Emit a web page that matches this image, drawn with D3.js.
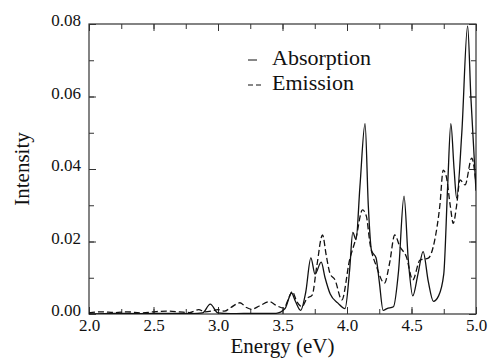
<!DOCTYPE html>
<html>
<head>
<meta charset="utf-8">
<script src="https://cdn.jsdelivr.net/npm/d3@7"></script>
<style>
  body { margin: 0; background: #fff; }
</style>
</head>
<body>
<div id="chart"></div>
<script>
// absorption spectrum (solid)
const absEnergy = [2.0, 2.2, 2.4, 2.6, 2.8, 2.88, 2.94, 3.0, 3.1, 3.3, 3.45, 3.52, 3.57, 3.60, 3.64, 3.68, 3.72, 3.752, 3.80, 3.83, 3.87, 3.93, 3.985, 4.02, 4.045, 4.07, 4.10, 4.14, 4.165, 4.19, 4.225, 4.25, 4.28, 4.31, 4.36, 4.40, 4.442, 4.475, 4.51, 4.55, 4.59, 4.63, 4.67, 4.71, 4.75, 4.78, 4.805, 4.83, 4.85, 4.89, 4.935, 4.96, 5.0];
const absIntensity = [0, 0.0002, 0.0001, 0.0002, 0.0001, 0.0003, 0.0027, 0.0003, 0.0001, 0.0002, 0.0002, 0.0015, 0.0058, 0.0035, 0.001, 0.006, 0.0155, 0.011, 0.0143, 0.010, 0.0055, 0.003, 0.0015, 0.012, 0.0225, 0.0205, 0.035, 0.0525, 0.03, 0.0175, 0.0155, 0.009, 0.001, 0.0015, 0.002, 0.012, 0.0325, 0.015, 0.005, 0.011, 0.0172, 0.009, 0.0035, 0.005, 0.011, 0.035, 0.0525, 0.04, 0.032, 0.05, 0.0795, 0.06, 0.034];

// emission spectrum (dashed)
const emEnergy = [2.0, 2.1, 2.2, 2.3, 2.4, 2.5, 2.6, 2.7, 2.78, 2.85, 2.9, 2.95, 3.0, 3.05, 3.1, 3.17, 3.22, 3.26, 3.32, 3.40, 3.45, 3.51, 3.55, 3.575, 3.61, 3.65, 3.69, 3.73, 3.765, 3.81, 3.84, 3.868, 3.907, 3.96, 4.02, 4.07, 4.12, 4.15, 4.178, 4.23, 4.29, 4.33, 4.37, 4.41, 4.46, 4.51, 4.566, 4.63, 4.68, 4.72, 4.746, 4.77, 4.80, 4.824, 4.85, 4.876, 4.915, 4.967, 5.0];
const emIntensity = [0.0003, 0.0006, 0.0004, 0.0006, 0.0003, 0.0006, 0.0008, 0.0006, 0.0004, 0.0012, 0.0006, 0.0008, 0.0012, 0.0008, 0.0018, 0.0031, 0.0018, 0.0013, 0.0022, 0.0034, 0.0024, 0.0016, 0.0045, 0.0062, 0.0035, 0.002, 0.0043, 0.0052, 0.013, 0.0218, 0.016, 0.0112, 0.0094, 0.0039, 0.0149, 0.021, 0.0287, 0.027, 0.0195, 0.013, 0.0085, 0.014, 0.0218, 0.0186, 0.0158, 0.0094, 0.0149, 0.0154, 0.0204, 0.03, 0.0397, 0.0379, 0.03, 0.025, 0.03, 0.037, 0.0356, 0.043, 0.036];

const xTicks = [2.0, 2.5, 3.0, 3.5, 4.0, 4.5, 5.0];
const yTicks = [0.00, 0.02, 0.04, 0.06, 0.08];
const legendLabels = ["Absorption", "Emission"];

const serif = "'Liberation Serif', 'DejaVu Serif', 'Noto Serif', Times, 'Nimbus Roman', serif";

const margin = { top: 24, right: 12, bottom: 46, left: 89 },
    width = 488 - margin.left - margin.right,
    height = 360 - margin.top - margin.bottom;

const svg = d3.select("#chart")
    .append("svg")
    .attr("width", 488)
    .attr("height", 360)
    .append("g")
    .attr("transform", `translate(${margin.left},${margin.top})`);

const x = d3.scaleLinear().domain([2.0, 5.0]).range([0, width]);
const y = d3.scaleLinear().domain([0, 0.08]).range([height, 0]);

const xMinor = d3.range(2.0, 5.001, 0.25);
const yMinor = d3.range(0, 0.0801, 0.01);

const styleAxis = g => {
    g.attr("font-family", serif);
    g.select(".domain").remove();
    g.selectAll("line").attr("stroke", "#333").attr("stroke-width", 1);
};

// minor ticks (all four sides, inward)
svg.append("g").attr("transform", `translate(0,${height})`)
    .call(d3.axisBottom(x).tickValues(xMinor).tickSize(-5).tickFormat(""))
    .call(styleAxis);
svg.append("g")
    .call(d3.axisTop(x).tickValues(xMinor).tickSize(-5).tickFormat(""))
    .call(styleAxis);
svg.append("g")
    .call(d3.axisLeft(y).tickValues(yMinor).tickSize(-5).tickFormat(""))
    .call(styleAxis);
svg.append("g").attr("transform", `translate(${width},0)`)
    .call(d3.axisRight(y).tickValues(yMinor).tickSize(-5).tickFormat(""))
    .call(styleAxis);

// major ticks with labels
svg.append("g").attr("transform", `translate(0,${height})`)
    .call(d3.axisBottom(x).tickValues(xTicks).tickSize(-7).tickPadding(5).tickFormat(d3.format(".1f")))
    .call(styleAxis)
    .selectAll("text")
    .style("font-family", serif).style("font-size", "17px").attr("fill", "#111");
svg.append("g")
    .call(d3.axisTop(x).tickValues(xTicks).tickSize(-7).tickFormat(""))
    .call(styleAxis);
svg.append("g")
    .call(d3.axisLeft(y).tickValues(yTicks).tickSize(-7).tickPadding(8).tickFormat(d3.format(".2f")))
    .call(styleAxis)
    .selectAll("text")
    .style("font-family", serif).style("font-size", "17px").attr("fill", "#111").attr("dy", "0.1em");
svg.append("g").attr("transform", `translate(${width},0)`)
    .call(d3.axisRight(y).tickValues(yTicks).tickSize(-7).tickFormat(""))
    .call(styleAxis);

// frame
svg.append("rect")
    .attr("width", width).attr("height", height)
    .attr("fill", "none").attr("stroke", "#333").attr("stroke-width", 1.2);

svg.append("clipPath").attr("id", "clip")
    .append("rect").attr("width", width).attr("height", height);

const line = d3.line()
    .x(d => x(d[0]))
    .y(d => y(d[1]))
    .curve(d3.curveMonotoneX);

const absData = absEnergy.map((e, i) => [e, absIntensity[i]]);
const emData = emEnergy.map((e, i) => [e, emIntensity[i]]);

svg.append("path")
    .datum(emData)
    .attr("clip-path", "url(#clip)")
    .attr("d", line)
    .attr("fill", "none")
    .attr("stroke", "#111")
    .attr("stroke-width", 1.3)
    .attr("stroke-dasharray", "6,3");

svg.append("path")
    .datum(absData)
    .attr("clip-path", "url(#clip)")
    .attr("d", line)
    .attr("fill", "none")
    .attr("stroke", "#111")
    .attr("stroke-width", 1.3);

// axis titles
svg.append("text")
    .attr("x", x(3.5))
    .attr("y", height + 39)
    .attr("text-anchor", "middle")
    .style("font-family", serif)
    .style("font-size", "21px")
    .attr("fill", "#111")
    .text("Energy (eV)");

svg.append("text")
    .attr("transform", `translate(${-60},${height / 2}) rotate(-90)`)
    .attr("text-anchor", "middle")
    .style("font-family", serif)
    .style("font-size", "21px")
    .attr("fill", "#111")
    .text("Intensity");

// legend
const legend = svg.selectAll(".legend")
    .data(legendLabels)
    .enter().append("g")
    .attr("transform", (d, i) => `translate(${159},${41 + i * 25})`);

legend.append("line")
    .attr("x1", 0).attr("x2", (d, i) => i === 0 ? 9 : 13)
    .attr("y1", -5).attr("y2", -5)
    .attr("stroke", "#111").attr("stroke-width", 1)
    .attr("stroke-dasharray", (d, i) => i === 0 ? null : "5,3");

legend.append("text")
    .attr("x", 24)
    .attr("y", 0)
    .style("font-family", serif)
    .style("font-size", "22px")
    .attr("fill", "#111")
    .text(d => d);
</script>
</body>
</html>
